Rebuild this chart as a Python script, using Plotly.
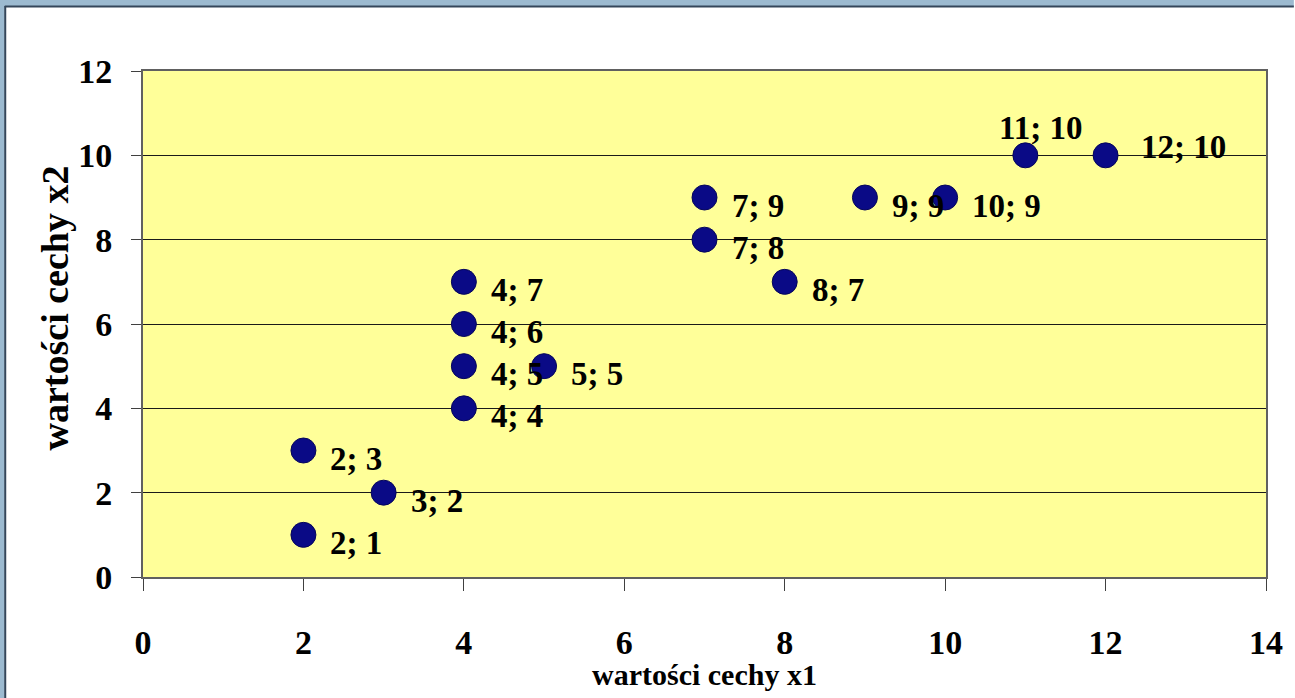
import plotly.graph_objects as go

# Feature values for each observation
x1_values = [2, 2, 3, 4, 4, 4, 4, 5, 7, 7, 8, 9, 10, 11, 12]
x2_values = [3, 1, 2, 7, 6, 5, 4, 5, 9, 8, 7, 9, 9, 10, 10]

x_ticks = [0, 2, 4, 6, 8, 10, 12, 14]
y_ticks = [0, 2, 4, 6, 8, 10, 12]

x_title = "wartości cechy x1"
y_title = "wartości cechy x2"

# Label placement (pixel shifts from the point, anchor) — default is right of the marker
DEFAULT_SHIFT = (25, -8, "left")
LABEL_SHIFT = {
    (11, 10): (15, 27, "center"),
    (12, 10): (33, 8, "left"),
}

W, H = 1295, 698
M_L, M_R, M_T, M_B = 143, 23, 71, 121
PLOT_W = W - M_L - M_R
PLOT_H = H - M_T - M_B

FONT = "Liberation Serif"
NAVY = "#0a0a86"

fig = go.Figure()
fig.add_trace(go.Scatter(
    x=x1_values, y=x2_values, mode="markers",
    marker=dict(symbol="circle", size=25, color=NAVY,
                line=dict(color="#05055a", width=1)),
    hoverinfo="x+y", showlegend=False,
))

annotations = []
for xv, yv in zip(x1_values, x2_values):
    dx, dy, anchor = LABEL_SHIFT.get((xv, yv), DEFAULT_SHIFT)
    annotations.append(dict(
        x=xv, y=yv, xref="x", yref="y", text=f"<b>{xv}; {yv}</b>",
        showarrow=False, xanchor=anchor, yanchor="middle",
        xshift=dx, yshift=dy,
        font=dict(family=FONT, size=33, color="black"),
    ))


def px_x(p):
    return (p - M_L) / PLOT_W


def px_y(p):
    return (H - M_B - p) / PLOT_H


# Axis titles
annotations.append(dict(
    x=0.5, y=px_y(674), xref="paper", yref="paper",
    text=f"<b>{x_title}</b>", showarrow=False, xanchor="center", yanchor="middle",
    font=dict(family=FONT, size=30, color="black"),
))
annotations.append(dict(
    x=px_x(55), y=px_y(308), xref="paper", yref="paper",
    text=f"<b>{y_title}</b>", showarrow=False, textangle=-90,
    xanchor="center", yanchor="middle",
    font=dict(family=FONT, size=38, color="black"),
))

# Window frame along the top and left edges
frame_fill = "#9cbad0"
frame_dark = "#34465a"
shapes = [
    dict(type="rect", xref="paper", yref="paper",
         x0=px_x(-5), x1=px_x(W + 5), y0=px_y(7), y1=px_y(-5),
         fillcolor=frame_fill, line=dict(width=0), layer="above"),
    dict(type="line", xref="paper", yref="paper",
         x0=px_x(0), x1=px_x(W + 5), y0=px_y(6.5), y1=px_y(6.5),
         line=dict(color=frame_dark, width=2), layer="above"),
    dict(type="rect", xref="paper", yref="paper",
         x0=px_x(-5), x1=px_x(4), y0=px_y(H + 5), y1=px_y(0),
         fillcolor=frame_fill, line=dict(width=0), layer="above"),
    dict(type="line", xref="paper", yref="paper",
         x0=px_x(4.5), x1=px_x(4.5), y0=px_y(H + 5), y1=px_y(6),
         line=dict(color=frame_dark, width=2), layer="above"),
]

tick_font = dict(family=FONT, size=34, color="black", weight="bold")

fig.update_layout(
    width=W, height=H,
    margin=dict(l=M_L, r=M_R, t=M_T, b=M_B, pad=0),
    paper_bgcolor="white",
    plot_bgcolor="#ffff99",
    font=dict(family=FONT, color="black"),
    annotations=annotations,
    shapes=shapes,
    xaxis=dict(
        range=[0, 14], tickvals=x_ticks, ticktext=[f"<b>{v}</b>" for v in x_ticks],
        showgrid=False, zeroline=False,
        showline=True, linecolor="#606060", linewidth=2, mirror=True,
        ticks="outside", ticklen=12, tickwidth=1, tickcolor="#404040",
        tickfont=tick_font,
        ticklabelstandoff=22,
    ),
    yaxis=dict(
        range=[0, 12], tickvals=y_ticks, ticktext=[f"<b>{v}</b>" for v in y_ticks],
        showgrid=True, gridcolor="#1a1a1a", gridwidth=1, zeroline=False,
        showline=True, linecolor="#606060", linewidth=2, mirror=True,
        ticks="outside", ticklen=10, tickwidth=1, tickcolor="#404040",
        tickfont=tick_font,
        ticklabelstandoff=12,
    ),
)

fig.write_html("out.html")
